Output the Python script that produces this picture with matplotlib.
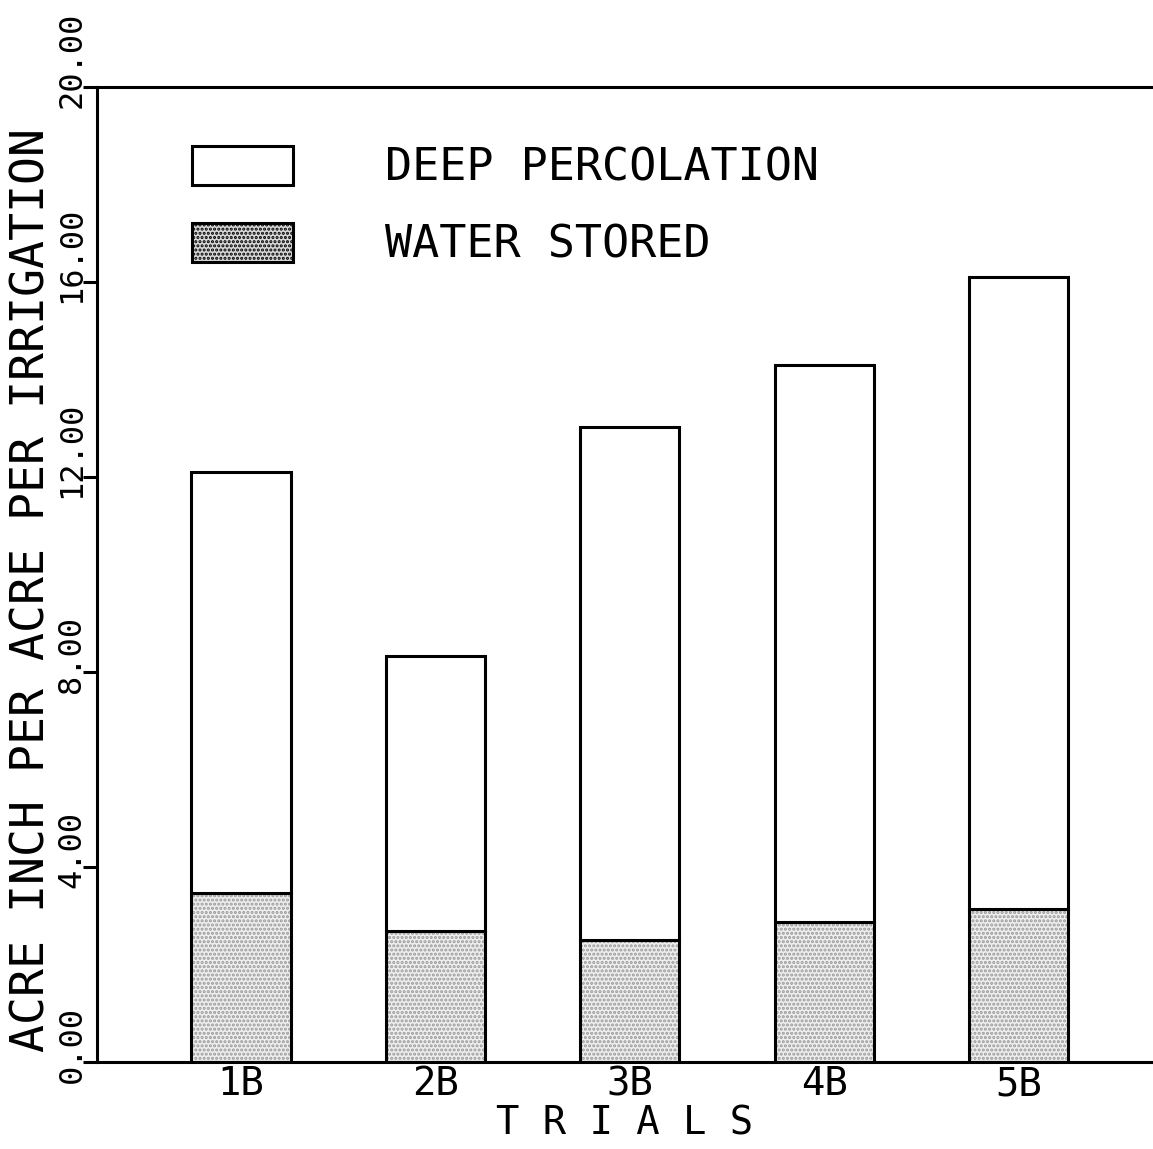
import matplotlib
matplotlib.use("Agg")
import matplotlib.pyplot as plt
import matplotlib.transforms as mtransforms
from matplotlib.patches import Patch
import numpy as np

# Irrigation trials: water stored in the root zone and water lost to deep percolation
trials = ["1B", "2B", "3B", "4B", "5B"]
water_stored = [3.47, 2.69, 2.50, 2.87, 3.14]
deep_percolation = [8.63, 5.64, 10.53, 11.43, 12.96]
y_ticks = [0, 4, 8, 12, 16, 20]
y_tick_labels = ["0.00", "4.00", "8.00", "12.00", "16.00", "20.00"]

FONT = "DejaVu Sans Mono"
plt.rcParams["font.family"] = [FONT, "DejaVu Sans"]
plt.rcParams["hatch.linewidth"] = 1.5

W, H = 1153, 1149
fig = plt.figure(figsize=(W / 100, H / 100), dpi=100)
ax_left, ax_right, ax_top, ax_bottom = 97, 1153, 87, 1062
ax = fig.add_axes([ax_left / W, (H - ax_bottom) / H,
                   (ax_right - ax_left) / W, (ax_bottom - ax_top) / H])

x = np.arange(1, len(trials) + 1)
width = 0.51
lw = 2.2

# stippled fill for stored water, then crisp outlines
ax.bar(x, water_stored, width, color="#eeeeee", hatch="....",
       edgecolor="#9a9a9a", linewidth=0, zorder=2)
ax.bar(x, water_stored, width, fill=False, edgecolor="black",
       linewidth=lw, zorder=3)
ax.bar(x, deep_percolation, width, bottom=water_stored, color="white",
       edgecolor="black", linewidth=lw, zorder=3)

ax.set_xlim(0.26, 5.69)
ax.set_ylim(0, 20)

for side in ("left", "top", "bottom"):
    ax.spines[side].set_linewidth(2.2)
ax.spines["right"].set_visible(False)

ax.set_xticks(x)
ax.set_xticklabels(trials, fontsize=28)
ax.tick_params(axis="x", length=0, pad=2.5)

ax.set_yticks(y_ticks)
ax.set_yticklabels(y_tick_labels, fontsize=23)
ax.tick_params(axis="y", direction="out", length=10, width=2.2, pad=8)
shift = mtransforms.ScaledTranslation(0, -0.21, fig.dpi_scale_trans)
for tick in ax.yaxis.get_major_ticks():
    lbl = tick.label1
    lbl.set_rotation(90)
    lbl.set_rotation_mode("anchor")
    lbl.set_horizontalalignment("left")
    lbl.set_verticalalignment("center")
    lbl.set_transform(lbl.get_transform() + shift)

ax.set_ylabel("ACRE INCH PER ACRE PER IRRIGATION", fontsize=33.5, va="center")
ax.yaxis.set_label_coords((32 - ax_left) / (ax_right - ax_left),
                          1 - (590 - ax_top) / (ax_bottom - ax_top))
ax.set_xlabel("T R I A L S", fontsize=28, labelpad=1)

handles = [
    Patch(facecolor="white", edgecolor="black", linewidth=lw),
    Patch(facecolor="#d8d8d8", edgecolor="black", linewidth=lw, hatch="...."),
]
leg = ax.legend(handles, ["DEEP PERCOLATION", "WATER STORED"],
                loc="upper left",
                bbox_to_anchor=((192 - ax_left) / (ax_right - ax_left),
                                1 - (146 - ax_top) / (ax_bottom - ax_top)),
                frameon=False, fontsize=32.5, borderpad=0, borderaxespad=0,
                handlelength=2.23, handleheight=0.95, handletextpad=2.05,
                labelspacing=0.73)

fig.savefig("out.png", dpi=100)
